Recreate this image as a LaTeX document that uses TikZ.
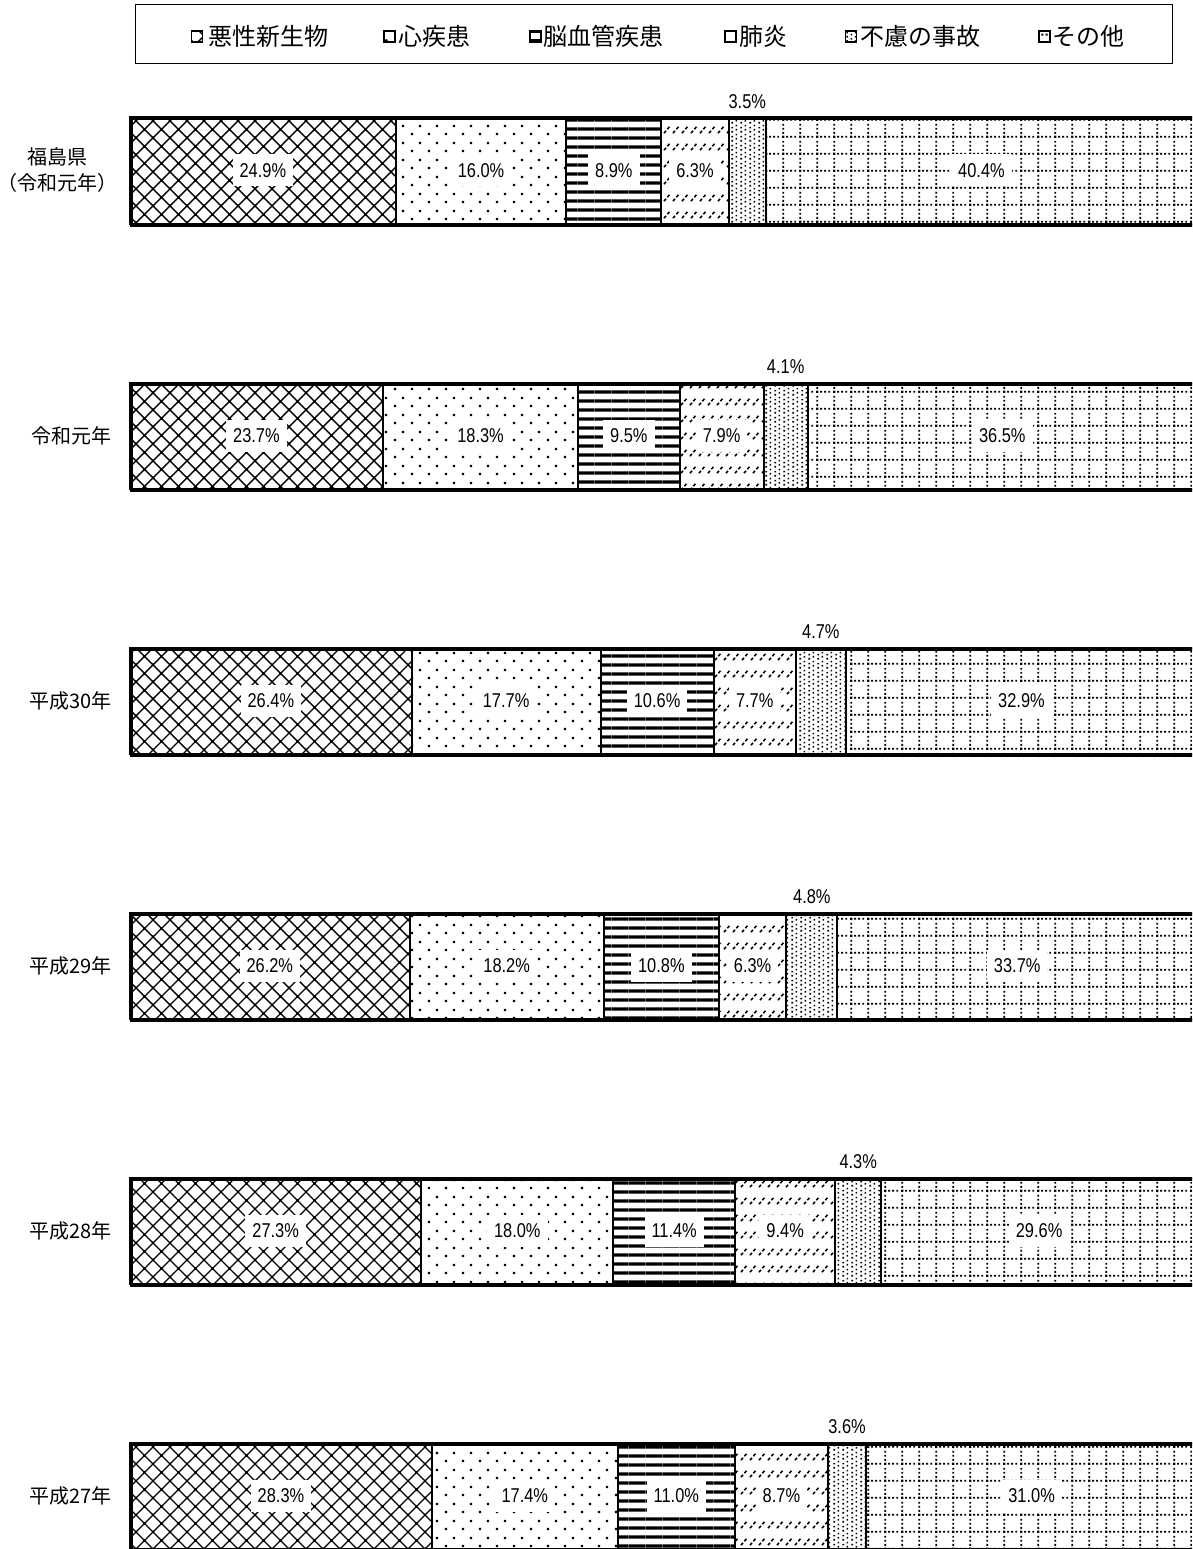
\documentclass[tikz,border=0pt]{standalone}
\usepackage{fontspec}
\newfontfamily\jpfont{Noto Sans CJK JP}
\newfontfamily\numfont[FakeStretch=0.82]{Liberation Sans}
\usetikzlibrary{patterns}

% 1: diagonal lattice
\pgfdeclarepatternformonly{p1}{\pgfqpoint{-1pt}{-1pt}}{\pgfqpoint{18pt}{18pt}}{\pgfqpoint{17pt}{17pt}}{%
  \pgfsetlinewidth{1.4pt}%
  \pgfpathmoveto{\pgfqpoint{-1pt}{-1pt}}\pgfpathlineto{\pgfqpoint{18pt}{18pt}}%
  \pgfpathmoveto{\pgfqpoint{-1pt}{18pt}}\pgfpathlineto{\pgfqpoint{18pt}{-1pt}}%
  \pgfusepath{stroke}%
  \pgfpathrectangle{\pgfqpoint{7pt}{7pt}}{\pgfqpoint{3pt}{3pt}}\pgfusepath{fill}}
% 2: sparse dots
\pgfdeclarepatternformonly{p2}{\pgfqpoint{0pt}{0pt}}{\pgfqpoint{17pt}{17pt}}{\pgfqpoint{17pt}{17pt}}{%
  \pgfpathrectangle{\pgfqpoint{3pt}{3pt}}{\pgfqpoint{2.4pt}{2.4pt}}%
  \pgfpathrectangle{\pgfqpoint{11.5pt}{11.5pt}}{\pgfqpoint{2.4pt}{2.4pt}}%
  \pgfusepath{fill}}
% 3: thick horizontal lines
\pgfdeclarepatternformonly{p3}{\pgfqpoint{0pt}{0pt}}{\pgfqpoint{17pt}{8.5pt}}{\pgfqpoint{17pt}{8.5pt}}{%
  \pgfpathrectangle{\pgfqpoint{-0.5pt}{2.6pt}}{\pgfqpoint{18pt}{3.3pt}}\pgfusepath{fill}}
% 4: dashed upward diagonals in rows
\pgfdeclarepatternformonly{p4}{\pgfqpoint{0pt}{0pt}}{\pgfqpoint{8.5pt}{17pt}}{\pgfqpoint{8.5pt}{17pt}}{%
  \pgfsetlinewidth{1.6pt}%
  \pgfpathmoveto{\pgfqpoint{1pt}{5pt}}\pgfpathlineto{\pgfqpoint{3.2pt}{7.6pt}}%
  \pgfpathmoveto{\pgfqpoint{4.6pt}{9.2pt}}\pgfpathlineto{\pgfqpoint{6.8pt}{11.8pt}}%
  \pgfusepath{stroke}}
% 5: fine dots
\pgfdeclarepatternformonly{p5}{\pgfqpoint{0pt}{0pt}}{\pgfqpoint{8.5pt}{8.5pt}}{\pgfqpoint{8.5pt}{8.5pt}}{%
  \pgfpathrectangle{\pgfqpoint{0.5pt}{0.5pt}}{\pgfqpoint{1.7pt}{1.7pt}}%
  \pgfpathrectangle{\pgfqpoint{4.75pt}{2.6pt}}{\pgfqpoint{1.7pt}{1.7pt}}%
  \pgfpathrectangle{\pgfqpoint{0.5pt}{4.75pt}}{\pgfqpoint{1.7pt}{1.7pt}}%
  \pgfpathrectangle{\pgfqpoint{4.75pt}{6.9pt}}{\pgfqpoint{1.7pt}{1.7pt}}%
  \pgfusepath{fill}}
% 6: dotted grid
\pgfdeclarepatternformonly{p6}{\pgfqpoint{0pt}{0pt}}{\pgfqpoint{17pt}{17pt}}{\pgfqpoint{17pt}{17pt}}{%
  \pgfpathrectangle{\pgfqpoint{0pt}{0pt}}{\pgfqpoint{2.6pt}{2.6pt}}%
  \pgfpathrectangle{\pgfqpoint{4.45pt}{0.3pt}}{\pgfqpoint{2pt}{2pt}}%
  \pgfpathrectangle{\pgfqpoint{8.7pt}{0.3pt}}{\pgfqpoint{2pt}{2pt}}%
  \pgfpathrectangle{\pgfqpoint{12.95pt}{0.3pt}}{\pgfqpoint{2pt}{2pt}}%
  \pgfpathrectangle{\pgfqpoint{0.3pt}{4.45pt}}{\pgfqpoint{2pt}{2pt}}%
  \pgfpathrectangle{\pgfqpoint{0.3pt}{8.7pt}}{\pgfqpoint{2pt}{2pt}}%
  \pgfpathrectangle{\pgfqpoint{0.3pt}{12.95pt}}{\pgfqpoint{2pt}{2pt}}%
  \pgfusepath{fill}}

\tikzset{
  seg/.style={draw=black, line width=2pt, minimum height=106pt, inner sep=0pt, outer sep=0pt},
  frame/.style={draw=black, line width=3pt},
  num/.style={font=\numfont\fontsize{20}{20}\selectfont, inner sep=0pt},
  numbox/.style={num, fill=white, inner xsep=7pt, minimum height=32pt},
  ylab/.style={font=\jpfont\fontsize{20}{26}\selectfont, inner sep=0pt},
  leg/.style={font=\jpfont\fontsize{24}{24}\selectfont, inner sep=0pt, anchor=west},
  mk/.style={draw=black, line width=1.8pt, minimum width=11pt, minimum height=11pt, inner sep=0pt},
}

\begin{document}
\begin{tikzpicture}[x=1pt,y=-1pt]
\useasboundingbox (0,0) rectangle (1192,1549);
\clip (0,0) rectangle (1192,1549);

% legend
\node[draw=black, line width=1pt, minimum width=1037.5pt, minimum height=58.5pt, anchor=north west, inner sep=0pt] (legend) at (134.5,4.5) {};
\node[mk, pattern=p1] (m1) at (197,36.5) {};
\node[leg] (t1) at (208,36) {悪性新生物};
\node[mk, pattern=p2] (m2) at (389.5,36.5) {};
\node[leg] (t2) at (398,36) {心疾患};
\node[mk, pattern=p3] (m3) at (535.5,36.5) {};
\node[leg] (t3) at (543,36) {脳血管疾患};
\node[mk, pattern=p4] (m4) at (730.5,36.5) {};
\node[leg] (t4) at (739,36) {肺炎};
\node[mk, pattern=p5] (m5) at (851,36.5) {};
\node[leg] (t5) at (860,36) {不慮の事故};
\node[mk, pattern=p6] (m6) at (1044.5,36.5) {};
\node[leg] (t6) at (1052,36) {その他};

% row labels
\node[ylab, align=center] (y1) at (57.5,170.5) {福島県\\（令和元年）};
\node[ylab, anchor=east] (y2) at (112,435.5) {令和元年};
\node[ylab, anchor=east] (y3) at (112,700.5) {平成30年};
\node[ylab, anchor=east] (y4) at (112,965.5) {平成29年};
\node[ylab, anchor=east] (y5) at (112,1230.5) {平成28年};
\node[ylab, anchor=east] (y6) at (112,1495.5) {平成27年};

% bars
\foreach \r/\vals in {
  1/{24.9,16.0,8.9,6.3,3.5,40.4},
  2/{23.7,18.3,9.5,7.9,4.1,36.5},
  3/{26.4,17.7,10.6,7.7,4.7,32.9},
  4/{26.2,18.2,10.8,6.3,4.8,33.7},
  5/{27.3,18.0,11.4,9.4,4.3,29.6},
  6/{28.3,17.4,11.0,8.7,3.6,31.0}} {
  \pgfmathsetmacro\yt{117.5+265*(\r-1)}
  \pgfmathsetmacro\ym{\yt+53}
  \xdef\xc{130}
  \foreach \v [count=\k] in \vals {
    \pgfmathsetmacro\w{10.67*\v}
    \pgfmathsetmacro\xm{\xc+\w/2}
    \node[seg, pattern=p\k, minimum width=\w pt] (s\r-\k) at (\xm,\ym) {};
    \ifnum\k=5
      \node[num] (l\r-\k) at (\xm,\yt-16) {\v\%};
    \else
      \node[numbox] (l\r-\k) at (\xm,\ym) {\v\%};
    \fi
    \pgfmathsetmacro\xn{\xc+\w}
    \xdef\xc{\xn}
  }
  \node[frame, minimum width=1067pt, minimum height=106pt, inner sep=0pt, anchor=north west] (bar\r) at (130,\yt) {};
}
\end{tikzpicture}
\end{document}
